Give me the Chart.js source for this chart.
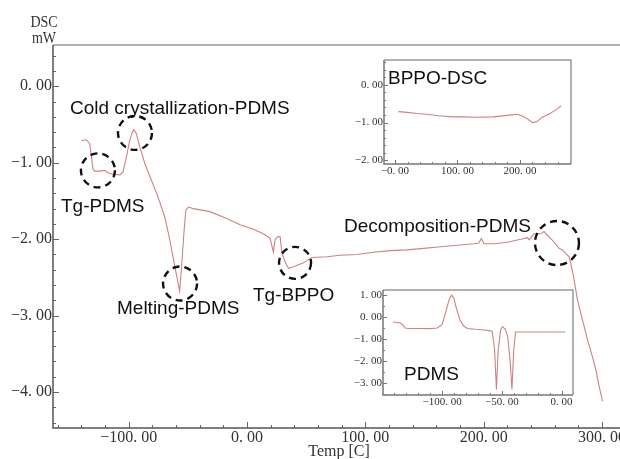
<!DOCTYPE html>
<html><head><meta charset="utf-8">
<script src="https://cdn.jsdelivr.net/npm/chart.js@4.4.1/dist/chart.umd.min.js"></script>
<style>
html,body{margin:0;padding:0;background:#fff;overflow:hidden;width:620px;height:459px;}
#wrap{position:relative;width:660px;height:459px;}
canvas{position:absolute;}
</style></head><body>
<div id="wrap">
<canvas id="main" width="660" height="459" style="left:0;top:0"></canvas>
<canvas id="bppo" width="240" height="132" style="left:345px;top:50px"></canvas>
<canvas id="pdms" width="240" height="135" style="left:345px;top:280px"></canvas>
</div>
<script>
// ---------- data ----------
const mainTemp = [-140.1,-135.8,-133,-131.6,-130.3,-128.8,-124.6,-120.3,-117.5,-113.3,-107.6,-104.8,-101.9,-99.2,-96.9,-95.8,-93.5,-90.7,-86.4,-80.8,-75.2,-69.5,-65.3,-61,-58.2,-57,-55.3,-53.4,-51.7,-49.7,-45.5,-31.4,-17.2,-5.9,5.4,13.8,19.5,22.3,23.7,25.7,28,29.4,32.2,35,39.3,47.7,54.8,67.5,78.8,93,107,121,135,149.4,163.6,177.7,191.8,196,198,200.3,208.7,220,231.4,237,238.4,242.6,248.3,251,255.4,259.6,263.8,266.7,269.5,272.3,273.7,276,279.4,283.6,287.9,292,294.9,297.7,300.5];
const mainDsc  = [-0.71,-0.70,-0.75,-0.90,-1.08,-1.11,-1.11,-1.10,-1.13,-1.15,-1.16,-1.12,-0.92,-0.71,-0.60,-0.57,-0.62,-0.79,-1.01,-1.23,-1.45,-1.71,-2.01,-2.36,-2.58,-2.68,-2.36,-1.93,-1.62,-1.58,-1.60,-1.64,-1.73,-1.81,-1.87,-1.93,-1.99,-2.17,-2.01,-1.97,-1.97,-2.17,-2.30,-2.38,-2.36,-2.31,-2.24,-2.23,-2.21,-2.20,-2.17,-2.15,-2.14,-2.12,-2.10,-2.08,-2.06,-2.05,-1.99,-2.06,-2.06,-2.04,-2.00,-1.98,-2.01,-1.93,-1.93,-1.90,-1.97,-2.04,-2.12,-2.14,-2.19,-2.23,-2.32,-2.49,-2.80,-3.06,-3.32,-3.54,-3.71,-3.93,-4.12];

const bppoTemp = [5.3,20,35,50.7,70,93,112,131,157,180,194.7,203,210.7,220,226.7,234.7,248,258.7,265.6];
const bppoDsc  = [-0.71,-0.73,-0.76,-0.78,-0.82,-0.85,-0.85,-0.86,-0.85,-0.81,-0.78,-0.82,-0.89,-1.00,-0.98,-0.87,-0.76,-0.65,-0.56];

const pdmsTemp = [-141,-135,-133,-131,-128,-120,-110,-104,-100,-97,-94,-92,-90,-88,-85,-82,-79,-72,-65,-60,-58,-56,-54.5,-53,-51,-49.5,-47,-45,-43,-41.5,-40,-38.5,-30,-20,-10,3];
const pdmsDsc  = [-0.23,-0.27,-0.35,-0.50,-0.52,-0.52,-0.53,-0.50,-0.35,0.20,0.80,1.00,0.85,0.40,-0.14,-0.40,-0.52,-0.56,-0.59,-0.62,-0.66,-1.50,-3.30,-1.50,-0.60,-0.45,-0.55,-0.90,-2.00,-3.30,-1.50,-0.68,-0.68,-0.68,-0.68,-0.68];

// tick labels
const mainXMajor = [-100,0,100,200,300];
const mainXLabels = ['\u2212100. 00','0. 00','100. 00','200. 00','300. 00'];
const mainYMajor = [0,-1,-2,-3,-4];
const mainYLabels = ['0. 00','\u22121. 00','\u22122. 00','\u22123. 00','\u22124. 00'];
const bppoXMajor = [0,100,200];
const bppoXLabels = ['\u22120. 00','100. 00','200. 00'];
const bppoYMajor = [0,-1,-2];
const bppoYLabels = ['0. 00','\u22121. 00','\u22122. 00'];
const pdmsXMajor = [-100,-50,0];
const pdmsXLabels = ['\u2212100. 00','\u221250. 00','0. 00'];
const pdmsYMajor = [1,0,-1,-2,-3];
const pdmsYLabels = ['1. 00','0. 00','\u22121. 00','\u22122. 00','\u22123. 00'];

// annotations
const notes = [
  {text:'Cold crystallization-PDMS', px:70,  py:114},
  {text:'Tg-PDMS',                   px:61,  py:212},
  {text:'Melting-PDMS',              px:117, py:314},
  {text:'Tg-BPPO',                   px:253, py:301},
  {text:'Decomposition-PDMS',        px:344, py:232}
];
const rings = [
  {x:-126, y:-1.10, r:17},
  {x:-94.7, y:-0.61, r:17},
  {x:-56.6, y:-2.58, r:17},
  {x:40.6, y:-2.31, r:16},
  {x:262, y:-2.05, r:22}
];

// ---------- helpers ----------
const SERIF = '"Liberation Serif","DejaVu Serif",serif';
const SANS = '"Liberation Sans",Arial,sans-serif';
const LINE = '#cf8282';
function labelFor(v, vals, labels){ const i = vals.findIndex(m => Math.abs(m - v) < 1e-6); return i >= 0 ? labels[i] : ''; }
function tickList(lo, hi, step, majors){
  const out = [];
  for (let k = Math.ceil(lo/step - 1e-9); k*step <= hi + 1e-9; k++) out.push(Math.round(k*step*1000)/1000);
  majors.forEach(m => { if (!out.some(v => Math.abs(v-m) < 1e-6)) out.push(m); });
  return out.sort((a,b)=>a-b);
}

const axisFrame = {
  id: 'axisFrame',
  beforeDatasetsDraw(chart, args, o) {
    if (!o.fill) return;
    const a = chart.chartArea, ctx = chart.ctx;
    ctx.save(); ctx.fillStyle = '#fff'; ctx.fillRect(a.left, a.top, a.right-a.left, a.bottom-a.top); ctx.restore();
  },
  afterDatasetsDraw(chart, args, o) {
    const {ctx, chartArea: a, scales: {x, y}} = chart;
    ctx.save();
    ctx.strokeStyle = o.tickColor; ctx.lineWidth = 1;
    x.ticks.forEach(t => {
      const px = Math.round(x.getPixelForValue(t.value)) + 0.5;
      const len = t.label ? o.major : o.minor;
      ctx.beginPath(); ctx.moveTo(px, a.bottom); ctx.lineTo(px, a.bottom - len); ctx.stroke();
    });
    y.ticks.forEach(t => {
      const py = Math.round(y.getPixelForValue(t.value)) + 0.5;
      const len = t.label ? o.major : o.minor;
      ctx.beginPath(); ctx.moveTo(a.left, py); ctx.lineTo(a.left + len, py); ctx.stroke();
    });
    // frame
    ctx.lineWidth = o.sideWidth;
    ctx.strokeStyle = o.topColor;
    ctx.beginPath(); ctx.moveTo(a.left, a.top); ctx.lineTo(a.right, a.top); ctx.lineTo(a.right, a.bottom); ctx.stroke();
    ctx.strokeStyle = o.axisColor;
    ctx.beginPath(); ctx.moveTo(a.left, a.top); ctx.lineTo(a.left, a.bottom); ctx.lineTo(a.right, a.bottom); ctx.stroke();
    ctx.restore();
  }
};

const annot = {
  id: 'annot',
  afterDatasetsDraw(chart) {
    const {ctx, scales: {x, y}} = chart;
    ctx.save();
    ctx.strokeStyle = '#111'; ctx.lineWidth = 2.4; ctx.setLineDash([7,5]);
    rings.forEach(c => {
      ctx.beginPath(); ctx.arc(x.getPixelForValue(c.x), y.getPixelForValue(c.y), c.r, 0, Math.PI*2); ctx.stroke();
    });
    ctx.setLineDash([]);
    ctx.fillStyle = '#111'; ctx.font = '19px ' + SANS; ctx.textBaseline = 'alphabetic'; ctx.textAlign = 'left';
    notes.forEach(n => ctx.fillText(n.text, n.px, n.py));
    // y-axis unit label
    ctx.fillStyle = '#333'; ctx.font = '14px ' + SERIF; ctx.textAlign = 'center';
    [['DSC', 27], ['mW', 43]].forEach(([t, b]) => {
      ctx.save(); ctx.translate(44, b); ctx.scale(1, 1.25); ctx.fillText(t, 0, 0); ctx.restore();
    });
    ctx.restore();
  }
};

const insetTitle = {
  id: 'insetTitle',
  afterDatasetsDraw(chart, args, o) {
    const ctx = chart.ctx;
    ctx.save(); ctx.fillStyle = '#111'; ctx.font = '19px ' + SANS; ctx.textAlign = 'left'; ctx.textBaseline = 'alphabetic';
    ctx.fillText(o.text, o.px, o.py); ctx.restore();
  }
};

function scaleCfg(min, max, step, majors, labels, size, fitKey, fitVal, pad, extra) {
  return Object.assign({
    type: 'linear', min, max,
    grid: {display: false, drawTicks: false}, border: {display: false},
    afterBuildTicks: s => { s.ticks = tickList(min, max, step, majors).map(v => ({value: v})); },
    afterFit: s => { s[fitKey] = fitVal; },
    ticks: {autoSkip: false, maxRotation: 0, padding: pad, color: '#333', font: {family: SERIF, size},
            callback: v => labelFor(v, majors, labels)}
  }, extra || {});
}

function lineData(xs, ys) {
  return {datasets: [{data: xs.map((v, i) => ({x: v, y: ys[i]})), showLine: true, borderColor: LINE,
          borderWidth: 1.1, pointRadius: 0, tension: 0, fill: false}]};
}

// ---------- main chart ----------
new Chart(document.getElementById('main'), {
  type: 'scatter',
  data: lineData(mainTemp, mainDsc),
  options: {
    responsive: false, animation: false, devicePixelRatio: 1,
    layout: {padding: {top: 45, right: 35, left: 0, bottom: 0}},
    plugins: {legend: {display: false}, tooltip: {enabled: false},
      axisFrame: {tickColor: '#666', major: 6, minor: 3, topColor: '#9a9a9a', axisColor: '#555', sideWidth: 1.5, fill: false}},
    scales: {
      x: scaleCfg(-164, 319.5, 20, mainXMajor, mainXLabels, 16, 'height', 31, 0,
        {title: {display: true, text: 'Temp [C]', color: '#333', font: {family: SERIF, size: 16}, padding: {top: 0, bottom: -2}}}),
      y: scaleCfg(-4.47, 0.54, 0.2, mainYMajor, mainYLabels, 16, 'width', 53, 1)
    }
  },
  plugins: [axisFrame, annot]
});

// ---------- BPPO inset ----------
new Chart(document.getElementById('bppo'), {
  type: 'scatter',
  data: lineData(bppoTemp, bppoDsc),
  options: {
    responsive: false, animation: false, devicePixelRatio: 1,
    layout: {padding: {top: 10, right: 14, left: 0, bottom: 0}},
    plugins: {legend: {display: false}, tooltip: {enabled: false},
      axisFrame: {tickColor: '#777', major: 4, minor: 2, topColor: '#999', axisColor: '#777', sideWidth: 1.5, fill: true},
      insetTitle: {text: 'BPPO-DSC', px: 43, py: 34}},
    scales: {
      x: scaleCfg(-17.6, 281.6, 20, bppoXMajor, bppoXLabels, 11, 'height', 18, 1),
      y: scaleCfg(-2.1, 0.66, 0.2, bppoYMajor, bppoYLabels, 11, 'width', 39, 1)
    }
  },
  plugins: [axisFrame, insetTitle]
});

// ---------- PDMS inset ----------
new Chart(document.getElementById('pdms'), {
  type: 'scatter',
  data: lineData(pdmsTemp, pdmsDsc),
  options: {
    responsive: false, animation: false, devicePixelRatio: 1,
    layout: {padding: {top: 10, right: 12, left: 0, bottom: 0}},
    plugins: {legend: {display: false}, tooltip: {enabled: false},
      axisFrame: {tickColor: '#777', major: 4, minor: 2, topColor: '#999', axisColor: '#777', sideWidth: 1.5, fill: true},
      insetTitle: {text: 'PDMS', px: 59, py: 100}},
    scales: {
      x: scaleCfg(-149.4, 9.6, 10, pdmsXMajor, pdmsXLabels, 11, 'height', 20, 1),
      y: scaleCfg(-3.55, 1.23, 0.5, pdmsYMajor, pdmsYLabels, 11, 'width', 38, 1)
    }
  },
  plugins: [axisFrame, insetTitle]
});
</script>
</body></html>
